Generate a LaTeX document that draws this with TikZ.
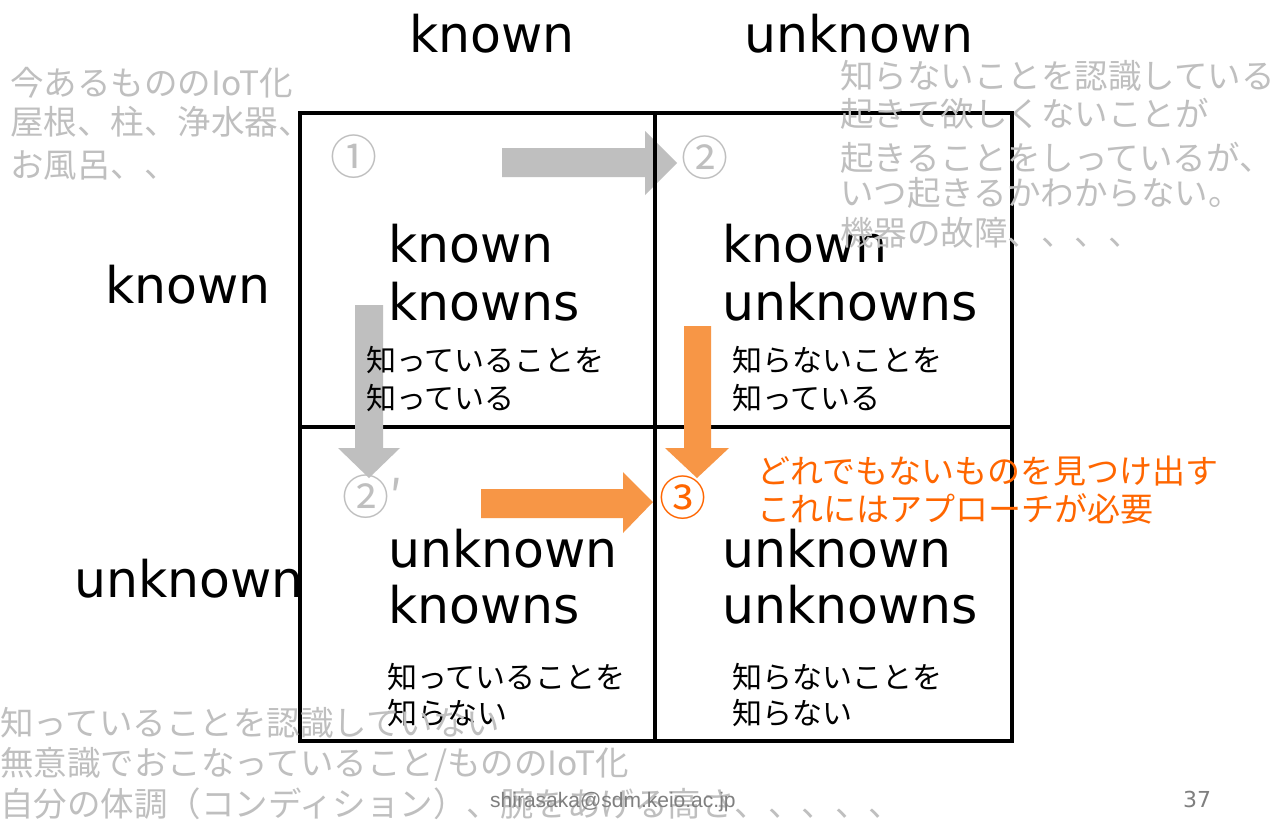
\documentclass[tikz,border=0pt]{standalone}
\usepackage{fontspec}
\setmainfont{DejaVu Sans}
\newfontfamily\jp{Noto Sans CJK JP}
\newfontfamily\lib{Liberation Sans}
\definecolor{notegray}{HTML}{BFBFBF}
\definecolor{arrgray}{HTML}{BFBFBF}
\definecolor{arrorange}{HTML}{F79646}
\definecolor{txtorange}{HTML}{FF6600}
\definecolor{footgray}{HTML}{7F7F7F}
\tikzset{
  en/.style={font=\fontsize{50.5}{58}\selectfont, anchor=base west, inner sep=0pt},
  jpb/.style={font=\jp\fontsize{30}{35}\selectfont, anchor=base west, inner sep=0pt},
  note/.style={font=\jp\fontsize{33.5}{40}\selectfont, text=notegray, anchor=base west, inner sep=0pt},
  orangenote/.style={font=\jp\fontsize{33}{40}\selectfont, text=txtorange, anchor=base west, inner sep=0pt},
  circnum/.style={font=\jp\fontsize{47}{50}\selectfont, inner sep=0pt},
  gridline/.style={line width=4pt, black},
  blockgray/.style={fill=arrgray, draw=none},
  blockorange/.style={fill=arrorange, draw=none},
}
\begin{document}
\begin{tikzpicture}[x=1pt,y=-1pt]
\useasboundingbox (0,0) rectangle (1287,828);
\fill[white] (0,0) rectangle (1287,828);

% gray right arrow (under grid)
\fill[blockgray] (502,148) -- (645,148) -- (645,131) -- (677,163) -- (645,195) -- (645,177) -- (502,177) -- cycle;

% grid
\coordinate (tl) at (300,113);
\coordinate (br) at (1012,741);
\draw[gridline] (tl) rectangle (br);
\draw[gridline] (655,113) -- (655,741);
\draw[gridline] (300,427) -- (1012,427);

% arrows over grid
\fill[blockgray] (355,305) -- (383,305) -- (383,448) -- (400,448) -- (369,478) -- (338,448) -- (355,448) -- cycle;
\fill[blockorange] (684,326) -- (711,326) -- (711,448) -- (729,448) -- (697,478) -- (665,448) -- (684,448) -- cycle;
\fill[blockorange] (481,489) -- (623,489) -- (623,472) -- (653,502) -- (623,533) -- (623,518) -- (481,518) -- cycle;

% axis labels
\node[en] (tknown) at (409,52) {known};
\node[en] (tunknown) at (744,52) {unknown};
\node[en] (lknown) at (105,303) {known};
\node[en] (lunknown) at (74,597) {unknown};

% cell labels
\node[en] (c1a) at (388,262) {known};
\node[en] (c1b) at (388,320) {knowns};
\node[en] (c2a) at (722,262) {known};
\node[en] (c2b) at (722,320) {unknowns};
\node[en] (c3a) at (388,567) {unknown};
\node[en] (c3b) at (388,623) {knowns};
\node[en] (c4a) at (722,567) {unknown};
\node[en] (c4b) at (722,623) {unknowns};

\node[jpb] (j1a) at (366,371) {知っていることを};
\node[jpb] (j1b) at (366,409) {知っている};
\node[jpb] (j2a) at (732,371) {知らないことを};
\node[jpb] (j2b) at (732,409) {知っている};
\node[jpb] (j3a) at (387,688) {知っていることを};
\node[jpb] (j3b) at (387,724) {知らない};
\node[jpb] (j4a) at (732,688) {知らないことを};
\node[jpb] (j4b) at (732,724) {知らない};

% circled numbers
\node[circnum, text=notegray] (n1) at (354,157) {①};
\node[circnum, text=notegray] (n2) at (705,158) {②};
\node[circnum, text=notegray, anchor=west] (n2p) at (342,497) {②′};
\node[circnum, text=txtorange] (n3) at (683,498) {③};

% gray notes
\node[note] (tl1) at (10,95) {今あるもののIoT化};
\node[note] (tl2) at (10,134) {屋根、柱、浄水器、};
\node[note] (tl3) at (10,177) {お風呂、、};

\node[note] (tr1) at (840,88) {知らないことを認識している};
\node[note] (tr2) at (840,126) {起きて欲しくないことが};
\node[note] (tr3) at (840,170) {起きることをしっているが、};
\node[note] (tr4) at (840,205) {いつ起きるかわからない。};
\node[note] (tr5) at (840,245) {機器の故障、、、、};

\node[note] (b1) at (0,735) {知っていることを認識していない};
\node[note] (b2) at (0,775) {無意識でおこなっていること/もののIoT化};
\node[note] (b3) at (0,816) {自分の体調（コンディション）、腕をあげる高さ、、、、、};

% orange note
\node[orangenote] (o1) at (757,483) {どれでもないものを見つけ出す};
\node[orangenote] (o2) at (757,521) {これにはアプローチが必要};

% footer
\node[font=\lib\fontsize{21}{24}\selectfont, text=footgray, anchor=base west, inner sep=0pt] (mail) at (490,807) {shirasaka@sdm.keio.ac.jp};
\node[font=\fontsize{22}{26}\selectfont, text=footgray, anchor=base west, inner sep=0pt] (page) at (1183,807) {37};
\end{tikzpicture}
\end{document}
